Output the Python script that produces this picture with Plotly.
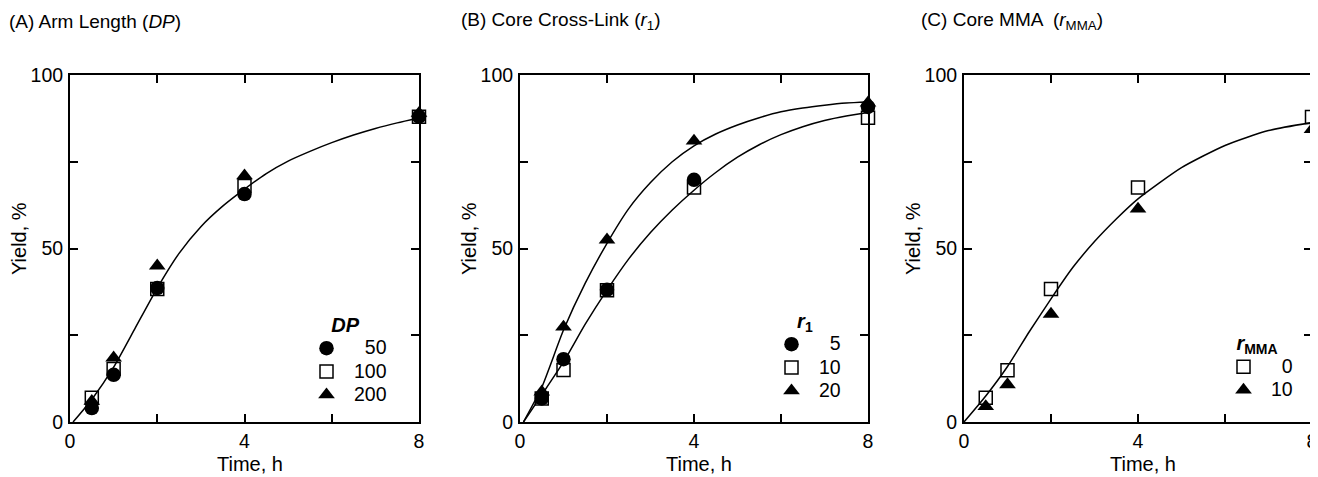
import plotly.graph_objects as go

# ---------------- data ----------------
time_h = [0.5, 1, 2, 4, 8]

# (A) Arm length DP
a_dp50 = [4.0, 13.6, 38.6, 65.7, 88.0]
a_dp100 = [7.0, 15.3, 38.3, 68.0, 88.0]
a_dp200 = [6.0, 18.5, 45.0, 71.0, 89.0]
a_fit_t = [0.07, 0.5, 1, 1.5, 2, 2.5, 3, 3.5, 4, 4.5, 5, 5.5, 6, 6.5, 7, 7.5, 8]
a_fit_y = [0, 6.5, 15.8, 27.2, 38.6, 48.6, 56.3, 62.2, 67.1, 71.6, 75.2, 78.0, 80.5, 82.7, 84.6, 86.2, 87.6]

# (B) Core cross-link r1
b_r5 = [6.8, 18.1, 38.1, 69.8, 90.8]
b_r10 = [6.8, 15.0, 38.0, 67.6, 87.7]
b_r20 = [8.7, 27.4, 52.5, 81.0, 92.0]
b_fit_t = [0.08, 0.5, 1, 1.5, 2, 2.5, 3, 3.5, 4, 4.5, 5, 5.5, 6, 6.5, 7, 7.5, 8]
b_fit_hi = [0, 10, 26.5, 40, 51.5, 61.5, 69, 75, 79.6, 83, 85.6, 87.7, 89.4, 90.5, 91.3, 91.9, 92.2]
b_fit_lo = [0, 7.8, 17.3, 28.2, 38, 47, 54.6, 61.1, 66.8, 71.9, 76.3, 79.9, 82.8, 85.1, 86.9, 88.2, 89.2]

# (C) Core MMA rMMA
c_r0 = [7.0, 14.9, 38.3, 67.6, 87.9]
c_r10 = [4.5, 10.8, 31.1, 61.4, 84.3]
c_fit_t = [0, 0.5, 1, 1.5, 2, 2.5, 3, 3.5, 4, 5, 6, 7, 8]
c_fit_y = [0, 7.5, 16, 26, 35.5, 44.5, 52, 58.5, 64.3, 73.3, 79.7, 84, 86.3]

x_ticks = [0, 2, 4, 6, 8]
x_ticktext = ["0", "", "4", "", "8"]
y_ticks = [0, 25, 50, 75, 100]
y_ticktext = ["0", "", "50", "", "100"]

# ---------------- layout helpers ----------------
W, H = 1318, 477
OFF = 8  # page offset of the figure inside the browser window
FONT = "Liberation Sans, Arial, sans-serif"
TXT = 19.5


def px_x(p):
    return (p - OFF) / W


def px_y(p):
    return 1 - (p - OFF) / H


panels = [(70, 419), (520, 868), (964, 1312)]
top_px, bot_px = 75, 422

fig = go.Figure()


def marker(sym, size):
    if sym == "square-open":
        return dict(symbol=sym, size=size, color="black", line=dict(color="black", width=1.5))
    return dict(symbol=sym, size=size, color="black", line=dict(width=0))


SYM = {"circle": ("circle", 14.5), "square": ("square-open", 13), "triangle": ("triangle-up", 14.5)}
RANK = {"circle": 1, "square": 2, "triangle": 3}


def lab(s):
    return "<span style='font-size:%spx'>%s</span>" % (TXT, s)


def add_points(y, kind, name, ax, legend):
    sym, size = SYM[kind]
    fig.add_trace(go.Scatter(
        x=time_h, y=y, mode="markers", name=lab(name), marker=marker(sym, size),
        xaxis="x" + ax, yaxis="y" + ax, legend=legend, legendrank=RANK[kind], cliponaxis=False))


def add_fit(tt, yy, ax):
    fig.add_trace(go.Scatter(
        x=tt, y=yy, mode="lines", line=dict(color="black", width=1.5, shape="spline", smoothing=0.6),
        xaxis="x" + ax, yaxis="y" + ax, showlegend=False, hoverinfo="skip"))


FS = "\u2007"
# Panel A
add_fit(a_fit_t, a_fit_y, "")
add_points(a_dp50, "circle", FS + "50", "", "legend")
add_points(a_dp100, "square", "100", "", "legend")
add_points(a_dp200, "triangle", "200", "", "legend")
# Panel B
add_fit(b_fit_t, b_fit_hi, "2")
add_fit(b_fit_t, b_fit_lo, "2")
add_points(b_r5, "circle", FS + "5", "2", "legend2")
add_points(b_r10, "square", "10", "2", "legend2")
add_points(b_r20, "triangle", "20", "2", "legend2")
# Panel C
add_fit(c_fit_t, c_fit_y, "3")
add_points(c_r0, "square", FS + "0", "3", "legend3")
add_points(c_r10, "triangle", "10", "3", "legend3")

axis_common = dict(
    showline=True, linecolor="black", linewidth=2, mirror="ticks",
    ticks="inside", ticklen=8, tickwidth=1.5, tickcolor="black",
    showgrid=False, zeroline=False, tickfont=dict(family=FONT, size=TXT, color="black"),
    fixedrange=True, automargin=False,
)

layout = dict(
    width=W, height=H, margin=dict(l=0, r=0, t=0, b=0, pad=0, autoexpand=False),
    plot_bgcolor="white", paper_bgcolor="white",
    font=dict(family=FONT, size=16, color="black"),
    showlegend=True,
)

for i, (l, r) in enumerate(panels):
    sx = "" if i == 0 else str(i + 1)
    layout["xaxis" + sx] = dict(
        domain=[px_x(l), px_x(r)], range=[0, 8], tickvals=x_ticks, ticktext=x_ticktext,
        anchor="y" + sx, ticklabelstandoff=1, **axis_common)
    layout["yaxis" + sx] = dict(
        domain=[px_y(bot_px), px_y(top_px)], range=[0, 100], tickvals=y_ticks, ticktext=y_ticktext,
        anchor="x" + sx, ticklabelstandoff=1, **axis_common)

legend_common = dict(
    bgcolor="rgba(0,0,0,0)", borderwidth=0, itemwidth=45,
    font=dict(family=FONT, size=15.6, color="black"),
    xanchor="left", yanchor="top", itemclick=False, itemdoubleclick=False,
    traceorder="normal",
)
TFONT = dict(family=FONT, size=20, color="black")
layout["legend"] = dict(x=px_x(299), y=px_y(305.5),
                        title=dict(text="<b><i>DP</i></b>", side="top center", font=TFONT),
                        **legend_common)
layout["legend2"] = dict(x=px_x(764), y=px_y(301.5),
                         title=dict(text="<b><i>r</i><sub>1</sub></b>", side="top center", font=TFONT),
                         **legend_common)
layout["legend3"] = dict(x=px_x(1216), y=px_y(324),
                         title=dict(text="<b><i>r</i><sub>MMA</sub></b>", side="top center", font=TFONT),
                         **legend_common)

annotations = []
titles = [
    (7, "(A) Arm Length (<i>DP</i>)"),
    (459, "(B) Core Cross-Link (<i>r</i><sub>1</sub>)"),
    (919, "(C) Core MMA  (<i>r</i><sub>MMA</sub>)"),
]
for xpx, txt in titles:
    annotations.append(dict(
        x=px_x(xpx), y=px_y(21), xref="paper", yref="paper", xanchor="left", yanchor="middle",
        text=txt, showarrow=False, font=dict(family=FONT, size=19, color="black")))

for l, r in panels:
    annotations.append(dict(
        x=px_x((l + r) / 2 + 5), y=px_y(464), xref="paper", yref="paper", xanchor="center",
        yanchor="middle", text="Time, h", showarrow=False,
        font=dict(family=FONT, size=20, color="black")))
    annotations.append(dict(
        x=px_x(l - 51), y=px_y(239), xref="paper", yref="paper",
        xanchor="center", yanchor="middle", text="Yield, %", textangle=-90, showarrow=False,
        font=dict(family=FONT, size=20, color="black")))

layout["annotations"] = annotations
fig.update_layout(**layout)
fig.write_html("out.html")
